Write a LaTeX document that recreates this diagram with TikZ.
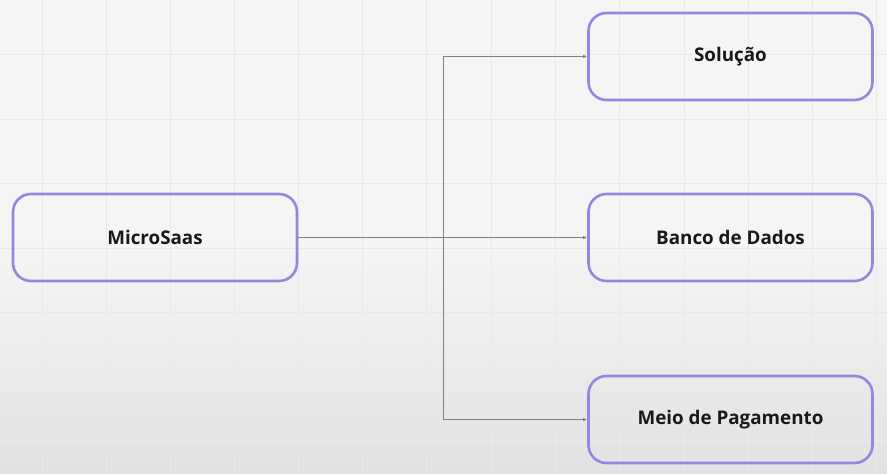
\documentclass[tikz,border=0pt]{standalone}
\usepackage{fontspec}
\setmainfont{Open Sans}
\usepackage{tikz}
\usetikzlibrary{arrows.meta,positioning}
\definecolor{boxedge}{RGB}{150,134,224}
\definecolor{bgtop}{RGB}{246,245,246}
\definecolor{bgbot}{RGB}{226,226,226}
\definecolor{gridgray}{RGB}{233,232,234}
\definecolor{inkgray}{RGB}{128,128,128}

\begin{document}
\begin{tikzpicture}[x=1pt,y=-1pt,font=\fontsize{18.8}{22}\selectfont\bfseries,
  topic/.style={rounded corners=18pt,draw=boxedge,line width=2.6pt,minimum width=284pt,minimum height=87pt,text=black!90},
  arr/.style={-{Latex[length=4pt,width=3.5pt]},line width=0.8pt,inkgray},
  gridline/.style={gridgray,line width=0.8pt}]
\useasboundingbox (0,0) rectangle (887,474);
% background
\fill[bgtop] (0,0) rectangle (887,240);
\shade[top color=bgtop,bottom color=bgbot] (0,240) rectangle (887,474);
\foreach \gx in {42,106,170,234,298,362,426,491,555,619,684,748,812,876}
  \draw[gridline] (\gx,0) -- (\gx,474);
\foreach \gy in {54,119,183,248,312,377,441}
  \draw[gridline] (0,\gy) -- (887,\gy);
% boxes
\node[topic] (micro) at (155,237.5) {MicroSaas};
\node[topic] (sol) at (730.5,56.5) {Solução};
\node[topic] (banco) at (730.5,237.5) {Banco de Dados};
\node[topic] (meio) at (730.5,419.5) {Meio de Pagamento};
\coordinate (split) at (443,237.5);
% connectors
\draw[arr] (micro.east) -- (split) |- (sol.west);
\draw[arr] (micro.east) -- (banco.west);
\draw[arr] (micro.east) -- (split) |- (meio.west);
\end{tikzpicture}
\end{document}
